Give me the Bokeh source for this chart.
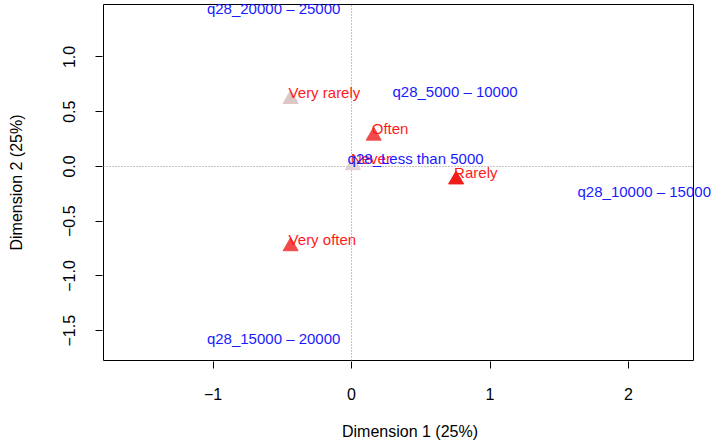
from bokeh.plotting import figure
from bokeh.models import ColumnDataSource, FixedTicker, Range1d, BoxAnnotation
from bokeh.core.properties import value
from bokeh.embed import file_html
from bokeh.resources import INLINE

# Row points (triangles, red labels)
row_labels = ["Very rarely", "Often", "Never", "Rarely", "Very often"]
row_x = [-0.44, 0.16, 0.01, 0.755, -0.44]
row_y = [0.615, 0.28, 0.01, -0.12, -0.73]
row_colors = ["#DCC6C6", "#F24A4A", "#E2D2D2", "#F01C1C", "#F24A4A"]

# Column points (labels only, blue)
col_labels = ["q28_20000 \u2013 25000", "q28_5000 \u2013 10000", "q28_Less than 5000",
              "q28_10000 \u2013 15000", "q28_15000 \u2013 20000"]
col_x = [-1.03, 0.31, -0.014, 1.646, -1.03]
col_y = [1.374, 0.62, 0.012, -0.29, -1.635]

x_ticks = [-1, 0, 1, 2]
y_ticks = [-1.5, -1.0, -0.5, 0.0, 0.5, 1.0]
x_tick_labels = ["\u22121", "0", "1", "2"]
y_tick_labels = ["\u22121.5", "\u22121.0", "\u22120.5", "0.0", "0.5", "1.0"]

# visible plot box (data limits)
box_x0, box_x1 = -1.791, 2.469
box_y0, box_y1 = -1.772, 1.479

FONT = "Liberation Sans"

W, H = 717, 444
BL, BR, BT, BB = 102, 0, 3, 83
fw, fh = W - BL - BR, H - BT - BB
sx = 590.0 / (box_x1 - box_x0)
sy = 356.0 / (box_y1 - box_y0)
xr0 = box_x0 - 1.0 / sx
xr1 = xr0 + fw / sx
yr1 = box_y1 + 1.0 / sy
yr0 = yr1 - fh / sy

p = figure(width=W, height=H, output_backend="svg", toolbar_location=None,
           title=None, x_range=Range1d(xr0, xr1), y_range=Range1d(yr0, yr1),
           min_border_left=BL, min_border_right=BR, min_border_top=BT, min_border_bottom=BB)

p.xgrid.visible = False
p.ygrid.visible = False
p.outline_line_color = None
p.background_fill_color = "white"
p.border_fill_color = "white"

for ax in (p.xaxis[0], p.yaxis[0]):
    ax.axis_line_color = None
    ax.minor_tick_line_color = None
    ax.major_tick_in = 0
    ax.major_tick_out = 7
    ax.major_tick_line_color = "black"
    ax.major_label_text_font = FONT
    ax.major_label_text_font_size = "16px"
    ax.major_label_text_color = "black"
    ax.axis_label_text_font = FONT
    ax.axis_label_text_font_size = "16px"
    ax.axis_label_text_font_style = "normal"
    ax.axis_label_text_color = "black"

p.xaxis.ticker = FixedTicker(ticks=x_ticks)
p.yaxis.ticker = FixedTicker(ticks=y_ticks)
p.xaxis.major_label_overrides = {t: l for t, l in zip(x_ticks, x_tick_labels)}
p.yaxis.major_label_overrides = {t: l for t, l in zip(y_ticks, y_tick_labels)}
p.yaxis.major_label_orientation = "vertical"
p.xaxis.axis_label = "Dimension 1 (25%)"
p.yaxis.axis_label = "Dimension 2 (25%)"
p.xaxis.major_label_standoff = 19
p.xaxis.axis_label_standoff = 20
p.yaxis.major_label_standoff = 20
p.yaxis.axis_label_standoff = 36

p.add_layout(BoxAnnotation(left=box_x0, right=box_x1, bottom=box_y0, top=box_y1,
                           fill_color=None, fill_alpha=0, line_color="black",
                           line_alpha=1.0, line_width=1, level="underlay"))

# dotted axes through the origin, limited to the plot box
p.segment(x0=[box_x0, 0], y0=[0, box_y0], x1=[box_x1, 0], y1=[0, box_y1],
          line_color="#888888", line_dash="1 2", line_width=1)

row_src = ColumnDataSource(dict(x=row_x, y=row_y, label=row_labels, color=row_colors))
col_src = ColumnDataSource(dict(x=col_x, y=col_y, label=col_labels))

p.scatter("x", "y", source=row_src, marker="triangle", size=15,
          fill_color="color", line_color="color")

p.text("x", "y", text="label", source=row_src, text_color="#FF1A1A",
       text_font=value(FONT), text_font_size="15px", text_align="left",
       text_baseline="middle", x_offset=-2, y_offset=-7)

p.text("x", "y", text="label", source=col_src, text_color="#1A1AFF",
       text_font=value(FONT), text_font_size="15px", text_align="left",
       text_baseline="middle", x_offset=-2, y_offset=-7)

open("out.html", "w").write(file_html(p, INLINE))
